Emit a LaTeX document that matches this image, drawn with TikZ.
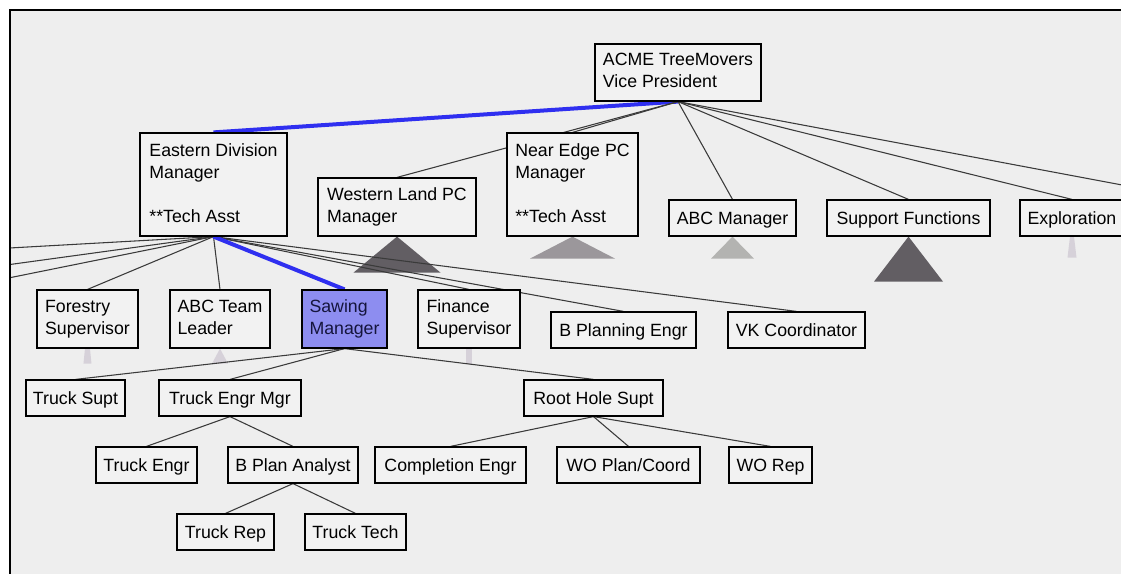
\documentclass[tikz,border=0pt]{standalone}
\usepackage{fontspec}
\setmainfont{Liberation Sans}
\usetikzlibrary{shadows}
\pgfdeclarelayer{bg}
\pgfdeclarelayer{edges}
\pgfsetlayers{bg,edges,main}
\definecolor{bgc}{HTML}{EEEEEE}
\definecolor{boxc}{HTML}{F2F2F2}
\definecolor{edgec}{HTML}{3A3A3A}
\definecolor{selblue}{HTML}{2F2FF0}
\definecolor{selfill}{HTML}{8D8DF0}
\definecolor{seltext}{HTML}{15153C}
\definecolor{tridark}{HTML}{625E63}
\definecolor{trimid}{HTML}{9B979B}
\definecolor{trilight}{HTML}{B3B3B1}
\definecolor{tripale}{HTML}{D6D1D9}
% \orgbox[style]{name}{x1}{y1}{x2}{y2}{text}
\newcommand\orgbox[7][]{\node[orgnode,#1,minimum width={(#5-#3)*0.75pt},minimum height={(#6-#4)*0.75pt}] (#2) at ({(#3+#5)/2},{(#4+#6)/2}) {#7};}
\begin{document}
\begin{tikzpicture}[x=0.75pt,y=-0.75pt,
  orgnode/.style={draw=black, line width=0.9pt, fill=boxc, align=left, inner sep=0pt,
    font=\fontsize{13.3pt}{16.5pt}\selectfont,
    execute at begin node={\rule{0pt}{12pt}},
    execute at end node={\rule[-2.7pt]{0pt}{0pt}},
    drop shadow={shadow xshift=0pt,shadow yshift=-1.1pt,fill=black!55,opacity=0.8}},
  selnode/.style={fill=selfill, text=seltext},
  link/.style={draw=edgec, line width=0.8pt},
  hilink/.style={draw=selblue, line width=3pt},
  frameline/.style={draw=black, line width=1.2pt}]
\useasboundingbox (0,0) rectangle (1121,574);

% level 1
\orgbox{vp}{595}{44}{761}{101}{ACME TreeMovers\\Vice President}
% level 2
\orgbox{edm}{140}{133}{287}{236}{Eastern Division\\Manager\\\mbox{}\\**Tech Asst}
\orgbox{wl}{318}{178}{476}{236}{Western Land PC\\Manager}
\orgbox{ne}{507}{133}{638}{236}{Near Edge PC\\Manager\\\mbox{}\\**Tech Asst}
\orgbox{abcm}{669}{200}{796}{236}{ABC Manager}
\orgbox{sf}{827}{200}{990}{236}{Support Functions}
\orgbox{ex}{1020}{200}{1124}{236}{Exploration}
\coordinate (vpR) at (1202,200);
% level 3
\orgbox{fs}{37}{290}{138}{348}{Forestry\\Supervisor}
\orgbox{abctl}{170}{290}{270}{348}{ABC Team\\Leader}
\orgbox[selnode]{saw}{302}{290}{387}{348}{Sawing\\Manager}
\orgbox{fin}{418}{290}{520}{348}{Finance\\Supervisor}
\orgbox{bpe}{551}{312}{696}{348}{B Planning Engr}
\orgbox{vk}{728}{312}{865}{348}{VK Coordinator}
\coordinate (edmL1) at (-742,290);
\coordinate (edmL2) at (-176,290);
\coordinate (edmL3) at (-51,290);
% level 4
\orgbox{ts}{26}{380}{125}{416}{Truck Supt}
\orgbox{tem}{159}{380}{301}{416}{Truck Engr Mgr}
\orgbox{rhs}{524}{380}{663}{416}{Root Hole Supt}
% level 5
\orgbox{te}{96}{447}{197}{483}{Truck Engr}
\orgbox{bpa}{228}{447}{358}{483}{B Plan Analyst}
\orgbox{ce}{375}{447}{526}{483}{Completion Engr}
\orgbox{wop}{557}{447}{700}{483}{WO Plan/Coord}
\orgbox{wor}{729}{447}{812}{483}{WO Rep}
% level 6
\orgbox{tr}{177}{514}{274}{550}{Truck Rep}
\orgbox{tt}{305}{514}{406}{550}{Truck Tech}

\begin{pgfonlayer}{bg}
  \fill[white] (0,0) rectangle (1121,574);
  \fill[bgc] (10,10) rectangle (1121,574);
  % collapsed-subtree markers
  \fill[tridark]  (wl.south)   -- ++(43.5,36) -- ++(-87,0) -- cycle;
  \fill[trimid]   (ne.south)   -- ++(42.5,22) -- ++(-85,0) -- cycle;
  \fill[trilight] (abcm.south) -- ++(21.5,22) -- ++(-43,0) -- cycle;
  \fill[tridark]  (sf.south)   -- ++(34.5,45) -- ++(-69,0) -- cycle;
  \fill[tripale]  ([xshift=-1.5pt]ex.south) -- ++(4,0) -- ++(2.5,21) -- ++(-9,0) -- cycle;
  \fill[tripale]  ([xshift=-1.9pt]fs.south) -- ++(5,0) -- ++(1.5,15) -- ++(-8,0) -- cycle;
  \fill[tripale]  (abctl.south) -- ++(8,15) -- ++(-16,0) -- cycle;
  \fill[tripale]  ([xshift=-2.2pt]fin.south) -- ++(6,0) -- ++(0,15) -- ++(-6,0) -- cycle;
\end{pgfonlayer}

\begin{pgfonlayer}{edges}
  \begin{scope}
  \clip (10,10) rectangle (1121,574);
  \draw[hilink] (vp.south) -- (edm.north);
  \foreach \c in {wl,ne,abcm,sf,ex} \draw[link] (vp.south) -- (\c.north);
  \draw[link] (vp.south) -- (vpR);
  \draw[link] (edm.south) -- (edmL1);
  \draw[link] (edm.south) -- (edmL2);
  \draw[link] (edm.south) -- (edmL3);
  \foreach \c in {fs,abctl,fin,bpe,vk} \draw[link] (edm.south) -- (\c.north);
  \draw[hilink] (edm.south) -- (saw.north);
  \foreach \c in {ts,tem,rhs} \draw[link] (saw.south) -- (\c.north);
  \foreach \c in {te,bpa} \draw[link] (tem.south) -- (\c.north);
  \foreach \c in {ce,wop,wor} \draw[link] (rhs.south) -- (\c.north);
  \foreach \c in {tr,tt} \draw[link] (bpa.south) -- (\c.north);
  \end{scope}
\end{pgfonlayer}

\draw[frameline] (10,574) -- (10,10) -- (1121,10);
\end{tikzpicture}
\end{document}
